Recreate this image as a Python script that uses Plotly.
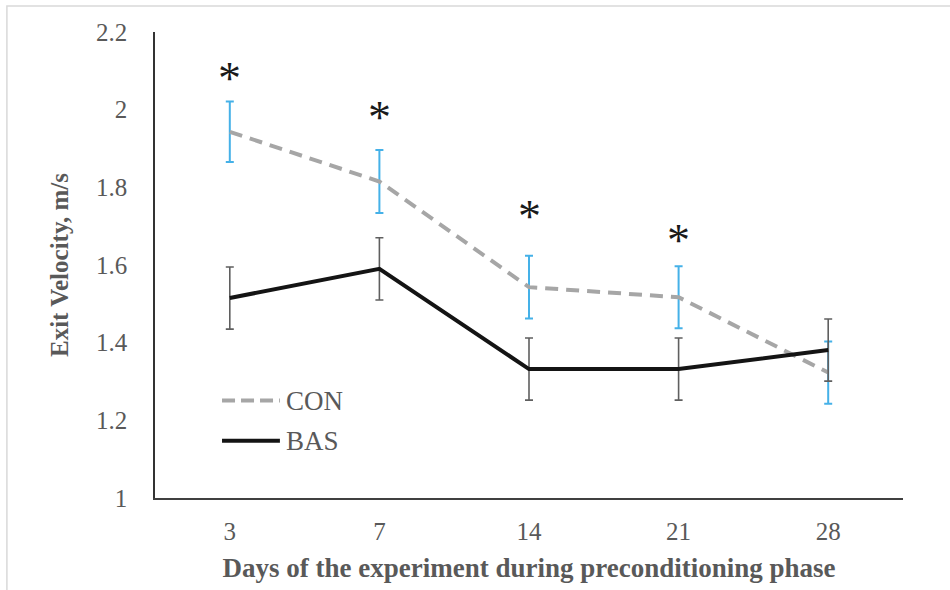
import plotly.graph_objects as go

days = ["3", "7", "14", "21", "28"]
con_mean = [1.943, 1.815, 1.543, 1.517, 1.323]
con_err = [0.078, 0.081, 0.081, 0.080, 0.080]
bas_mean = [1.515, 1.590, 1.332, 1.332, 1.381]
bas_err = [0.080, 0.080, 0.080, 0.080, 0.080]
star_days = ["3", "7", "14", "21"]
star_y = [2.079, 1.981, 1.726, 1.662]
y_ticks = [1, 1.2, 1.4, 1.6, 1.8, 2, 2.2]
y_ticktext = ["1", "1.2", "1.4", "1.6", "1.8", "2", "2.2"]

FONT = "Liberation Serif"
GRAY_TXT = "#595959"

fig = go.Figure()
fig.add_trace(go.Scatter(
    x=days, y=con_mean, mode="lines", name="CON",
    line=dict(color="#A6A6A6", width=4, dash="13px,8px"),
    error_y=dict(type="data", array=con_err, visible=True, color="#45B1E8", thickness=2, width=4),
))
fig.add_trace(go.Scatter(
    x=days, y=bas_mean, mode="lines", name="BAS",
    line=dict(color="#141414", width=4),
    error_y=dict(type="data", array=bas_err, visible=True, color="#5f5f5f", thickness=1.6, width=4),
))

for d, yv in zip(star_days, star_y):
    fig.add_annotation(x=days.index(d), y=yv, text="*", showarrow=False,
                       font=dict(family=FONT, size=46, color="#1a1a1a"),
                       xanchor="center", yanchor="middle")

# manual legend
leg = [("CON", dict(color="#A6A6A6", width=4, dash="13px,6px"), 0.209),
       ("BAS", dict(color="#141414", width=4), 0.123)]
for name, ln, py in leg:
    fig.add_shape(type="line", xref="paper", yref="paper",
                  x0=0.0896, x1=0.167, y0=py, y1=py, line=ln)
    fig.add_annotation(xref="paper", yref="paper", x=0.172, y=py, text=name,
                       showarrow=False, xanchor="left", yanchor="middle",
                       font=dict(family=FONT, size=27, color=GRAY_TXT))

# outer light frame
fig.add_shape(type="rect", xref="paper", yref="paper",
              x0=-0.198, x1=1.2, y0=-0.4, y1=1.056,
              line=dict(color="#D9D9D9", width=1.5), layer="below")

fig.update_layout(
    width=950, height=590,
    margin=dict(l=155, r=47, t=32, b=92),
    paper_bgcolor="white", plot_bgcolor="white",
    showlegend=False,
    font=dict(family=FONT, size=24, color=GRAY_TXT),
)
fig.update_xaxes(
    type="category", range=[-0.5, 4.5],
    showline=True, linecolor="#404040", linewidth=2,
    showgrid=False, ticks="", zeroline=False,
    tickfont=dict(family=FONT, size=25, color=GRAY_TXT),
    ticklabelstandoff=10,
    title=dict(text="<b>Days of the experiment during preconditioning phase</b>",
               font=dict(family=FONT, size=27, color=GRAY_TXT), standoff=14),
)
fig.update_yaxes(
    range=[1, 2.2], tickvals=y_ticks, ticktext=y_ticktext,
    showline=True, linecolor="#333333", linewidth=1.5,
    showgrid=False, ticks="", zeroline=False,
    tickfont=dict(family=FONT, size=25, color=GRAY_TXT),
    ticklabelstandoff=21,
    title=dict(text="<b>Exit Velocity, m/s</b>",
               font=dict(family=FONT, size=25, color=GRAY_TXT), standoff=20),
)

fig.write_html("out.html")
